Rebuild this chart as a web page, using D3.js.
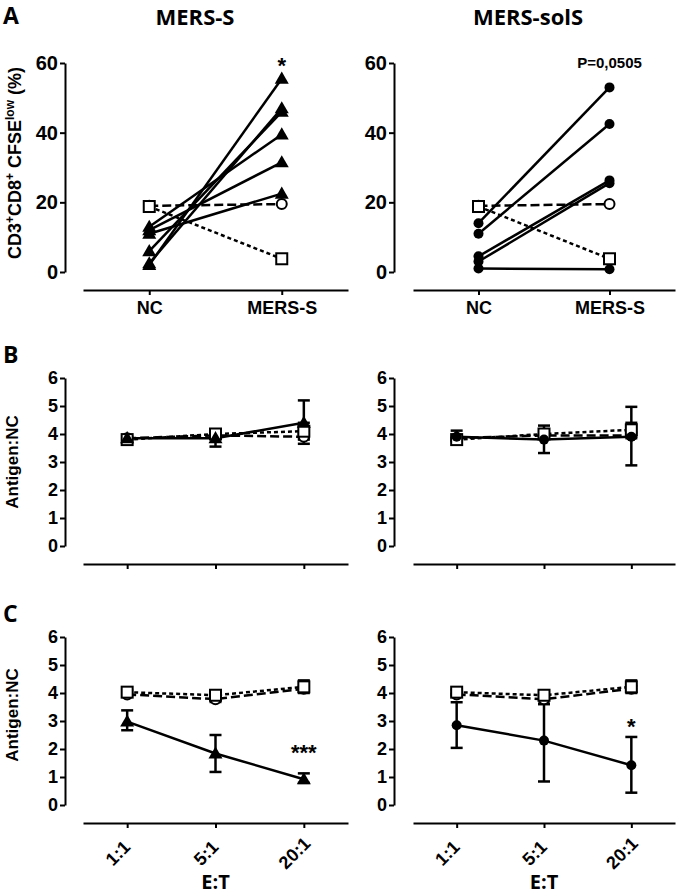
<!DOCTYPE html>
<html>
<head>
<meta charset="utf-8">
<script src="https://cdn.jsdelivr.net/npm/d3@7"></script>
<style>
  body { margin: 0; background: #fff; }
  svg text { font-family: "Liberation Sans", Arial, sans-serif; font-weight: bold; fill: #000; }
  svg text.head { font-family: "Open Sans", sans-serif; }
</style>
</head>
<body>
<svg width="680" height="896"></svg>
<script>
// ---- panel A: % CD3+CD8+ CFSE-low cells, NC vs MERS-S stimulation
const panelTitles = ["MERS-S", "MERS-solS"];
const aCats = ["NC", "MERS-S"];
const aTicks = [0, 20, 40, 60];
const aSpikeNC = [2, 2.5, 6, 13, 12, 11];
const aSpikeAg = [55.5, 47, 46, 39.5, 31.5, 22.5];
const aSolNC = [14, 11, 4.5, 3, 1];
const aSolAg = [53, 42.5, 26.3, 25.5, 0.8];
const aCtrlSquare = [18.8, 3.8];
const aCtrlCircle = [19, 19.5];

// ---- panels B and C: Antigen:NC by E:T ratio, each point [mean, low, high]
const ratios = ["1:1", "5:1", "20:1"];
const ratioTicks = [0, 1, 2, 3, 4, 5, 6];

const bSpike   = [[3.85, 3.8, 3.9], [3.85, 3.55, 4.1], [4.4, 3.65, 5.2]];
const bSpikeSq = [[3.8, 3.75, 3.85], [4.0, 3.85, 4.15], [4.1, 3.85, 4.4]];
const bSpikeCi = [[3.85, 3.8, 3.9], [3.95, 3.85, 4.05], [3.9, 3.8, 4.0]];
const bSol     = [[3.9, 3.75, 4.12], [3.8, 3.32, 4.3], [3.9, 2.88, 4.97]];
const bSolSq   = [[3.8, 3.75, 3.85], [4.0, 3.85, 4.15], [4.15, 3.9, 4.4]];
const bSolCi   = [[3.85, 3.8, 3.9], [3.95, 3.85, 4.05], [3.95, 3.85, 4.05]];

const cSpike   = [[2.98, 2.67, 3.38], [1.84, 1.18, 2.5], [0.92, 0.79, 1.13]];
const cSpikeSq = [[4.03, 3.95, 4.1], [3.92, 3.8, 4.0], [4.22, 4.0, 4.45]];
const cSpikeCi = [[3.95, 3.9, 4.0], [3.78, 3.68, 3.88], [4.15, 4.05, 4.25]];
const cSol     = [[2.85, 2.04, 3.67], [2.3, 0.84, 3.62], [1.42, 0.44, 2.43]];
const cSolSq   = [[4.03, 3.95, 4.1], [3.92, 3.8, 4.0], [4.22, 4.0, 4.45]];
const cSolCi   = [[3.95, 3.9, 4.0], [3.78, 3.6, 3.88], [4.15, 4.05, 4.25]];

// annotations: [text, category, value]
const aNotes = [["*", "MERS-S", 57], ["P=0,0505", "MERS-S", 58.5]];
const cNotes = [["***", "20:1", 1.62], ["*", "20:1", 2.52]];

const svg = d3.select("svg");
const DASH_LONG = "9,4", DASH_SHORT = "4,3";
const FONT = '"Liberation Sans", Arial, sans-serif';

function boldText(sel, size) {
  sel.style("font-family", FONT).style("font-weight", "bold").style("font-size", size + "px");
}

function yAxis(y, xPos, ticks, size) {
  const ax = svg.append("g").attr("transform", `translate(${xPos},0)`)
    .call(d3.axisLeft(y).tickValues(ticks).tickFormat(d3.format("d"))
      .tickSize(5).tickSizeOuter(0).tickPadding(2));
  ax.attr("font-size", null).attr("font-family", null);
  ax.select(".domain").attr("stroke-width", 2);
  ax.selectAll(".tick line").attr("stroke-width", 2);
  boldText(ax.selectAll("text"), size);
  return ax;
}

function xAxis(x, yPos, size, rotate, showLabels) {
  const ax = svg.append("g").attr("transform", `translate(0,${yPos})`)
    .call(d3.axisBottom(x).tickSize(5).tickSizeOuter(0).tickPadding(6));
  ax.attr("font-size", null).attr("font-family", null);
  ax.select(".domain").attr("stroke-width", 2);
  ax.selectAll(".tick line").attr("stroke-width", 2);
  const t = ax.selectAll("text");
  boldText(t, size);
  if (!showLabels) t.remove();
  else if (rotate) {
    t.attr("x", 0).attr("y", 0).attr("dy", "0.35em")
      .attr("text-anchor", "middle")
      .attr("transform", "translate(-10,30) rotate(-45)");
  }
  return ax;
}

const tri = d3.symbol(d3.symbolTriangle, 85);

function marker(g, kind, cx, cy) {
  if (kind === "tri") {
    g.append("path").attr("d", tri()).attr("transform", `translate(${cx},${cy + 1})`).attr("fill", "#000");
  } else if (kind === "dot") {
    g.append("circle").attr("cx", cx).attr("cy", cy).attr("r", 5).attr("fill", "#000");
  } else if (kind === "ring") {
    g.append("circle").attr("cx", cx).attr("cy", cy).attr("r", 5)
      .attr("fill", "#fff").attr("stroke", "#000").attr("stroke-width", 2);
  } else {
    g.append("rect").attr("x", cx - 5.5).attr("y", cy - 5.5).attr("width", 11).attr("height", 11)
      .attr("fill", "#fff").attr("stroke", "#000").attr("stroke-width", 2);
  }
}

// ---------------- panel A ----------------
function panelA(col) {
  const x0 = col === 0 ? 65 : 394;
  const xr = col === 0 ? [83, 348] : [413, 675];
  const y = d3.scaleLinear().domain([0, 60]).range([272, 63]);
  const x = d3.scalePoint().domain(aCats).range(xr).padding(0.5);
  yAxis(y, x0, aTicks, 20);
  xAxis(x, 290, 18, false, true);

  const g = svg.append("g");
  const line = d3.line().x((d, i) => x(aCats[i])).y(d => y(d));
  g.append("path").attr("d", line(aCtrlCircle)).attr("fill", "none")
    .attr("stroke", "#000").attr("stroke-width", 2.5).attr("stroke-dasharray", DASH_LONG);
  g.append("path").attr("d", line(aCtrlSquare)).attr("fill", "none")
    .attr("stroke", "#000").attr("stroke-width", 2.5).attr("stroke-dasharray", DASH_SHORT);

  const nc = col === 0 ? aSpikeNC : aSolNC;
  const ag = col === 0 ? aSpikeAg : aSolAg;
  nc.forEach((v, i) => {
    g.append("path").attr("d", line([v, ag[i]])).attr("fill", "none")
      .attr("stroke", "#000").attr("stroke-width", 2.5);
  });
  const kind = col === 0 ? "tri" : "dot";
  nc.forEach((v, i) => {
    marker(g, kind, x("NC"), y(v));
    marker(g, kind, x("MERS-S"), y(ag[i]));
  });
  aCtrlCircle.forEach((v, i) => marker(g, "ring", x(aCats[i]), y(v)));
  aCtrlSquare.forEach((v, i) => marker(g, "sq", x(aCats[i]), y(v)));

  const note = aNotes[col];
  svg.append("text").attr("x", x(note[1])).attr("y", y(note[2]))
    .attr("text-anchor", "middle").style("font-size", col === 0 ? "22px" : "15px")
    .text(note[0]);

  svg.append("text").attr("class", "head").attr("x", col === 0 ? 195 : 528).attr("y", 25)
    .attr("text-anchor", "middle").style("font-size", "22px").text(panelTitles[col]);
}

// ---------------- panels B / C ----------------
function panelRatio(col, top, series, note, labels) {
  const x0 = col === 0 ? 65 : 394;
  const xr = col === 0 ? [83, 348] : [413, 675];
  const y = d3.scaleLinear().domain([0, 6]).range([top + 168, top]);
  const x = d3.scalePoint().domain(ratios).range(xr).padding(0.5);
  yAxis(y, x0, ratioTicks, 18);
  xAxis(x, top + 186, 18, true, labels);

  const g = svg.append("g");
  const line = d3.line().x((d, i) => x(ratios[i])).y(d => y(d[0]));
  series.forEach(s => {
    g.append("path").attr("d", line(s.data)).attr("fill", "none")
      .attr("stroke", "#000").attr("stroke-width", 2.5)
      .attr("stroke-dasharray", s.dash);
  });
  series.forEach(s => {
    s.data.forEach((d, i) => {
      const cx = x(ratios[i]);
      g.append("line").attr("x1", cx).attr("x2", cx).attr("y1", y(d[1])).attr("y2", y(d[2]))
        .attr("stroke", "#000").attr("stroke-width", 2.5);
      [d[1], d[2]].forEach(v => g.append("line").attr("x1", cx - 6).attr("x2", cx + 6)
        .attr("y1", y(v)).attr("y2", y(v)).attr("stroke", "#000").attr("stroke-width", 2.5));
    });
  });
  series.forEach(s => s.data.forEach((d, i) => marker(g, s.kind, x(ratios[i]), y(d[0]))));

  if (note) {
    svg.append("text").attr("x", x(note[1])).attr("y", y(note[2]))
      .attr("text-anchor", "middle").style("font-size", "22px").text(note[0]);
  }
  if (labels) {
    svg.append("text").attr("class", "head").attr("x", x("5:1")).attr("y", 889)
      .attr("text-anchor", "middle").style("font-size", "20px").text("E:T");
  }
}

panelA(0);
panelA(1);

panelRatio(0, 378, [
  { data: bSpikeCi, kind: "ring", dash: DASH_LONG },
  { data: bSpikeSq, kind: "sq", dash: DASH_SHORT },
  { data: bSpike, kind: "tri", dash: null }
], null, false);
panelRatio(1, 378, [
  { data: bSolCi, kind: "ring", dash: DASH_LONG },
  { data: bSolSq, kind: "sq", dash: DASH_SHORT },
  { data: bSol, kind: "dot", dash: null }
], null, false);
panelRatio(0, 637, [
  { data: cSpikeCi, kind: "ring", dash: DASH_LONG },
  { data: cSpikeSq, kind: "sq", dash: DASH_SHORT },
  { data: cSpike, kind: "tri", dash: null }
], cNotes[0], true);
panelRatio(1, 637, [
  { data: cSolCi, kind: "ring", dash: DASH_LONG },
  { data: cSolSq, kind: "sq", dash: DASH_SHORT },
  { data: cSol, kind: "dot", dash: null }
], cNotes[1], true);

// panel letters and y titles
[["A", 24], ["B", 363], ["C", 622]].forEach(([t, yb]) => {
  svg.append("text").attr("class", "head").attr("x", 3).attr("y", yb)
    .style("font-size", "23px").text(t);
});

const yt = svg.append("text").attr("transform", "translate(21,163) rotate(-90)")
  .attr("text-anchor", "middle").style("font-size", "18px");
yt.append("tspan").text("CD3");
yt.append("tspan").attr("baseline-shift", "super").style("font-size", "12px").text("+");
yt.append("tspan").text("CD8");
yt.append("tspan").attr("baseline-shift", "super").style("font-size", "12px").text("+");
yt.append("tspan").text(" CFSE");
yt.append("tspan").attr("baseline-shift", "super").style("font-size", "12px").text("low");
yt.append("tspan").text(" (%)");

[462, 715].forEach(cy => {
  svg.append("text").attr("transform", `translate(18,${cy}) rotate(-90)`)
    .attr("text-anchor", "middle").style("font-size", "17px").text("Antigen:NC");
});
</script>
</body>
</html>
